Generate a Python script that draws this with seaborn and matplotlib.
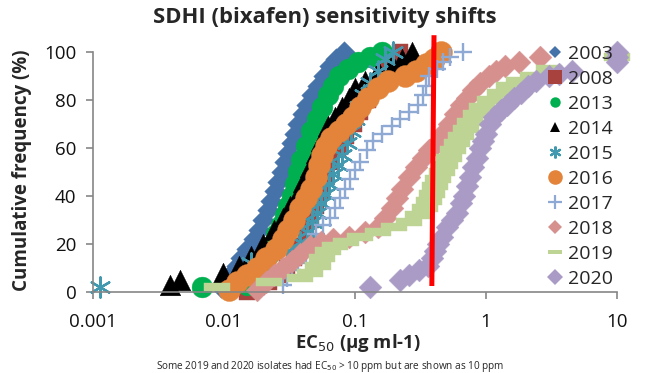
import matplotlib
matplotlib.use("Agg")
import matplotlib.pyplot as plt
import seaborn as sns
import pandas as pd
from matplotlib.lines import Line2D
from matplotlib.path import Path

# ---------------- data ----------------
years = ["2003", "2008", "2013", "2014", "2015", "2016", "2017", "2018", "2019", "2020"]

x_2003 = [0.0095, 0.0105, 0.0115, 0.0125, 0.0135, 0.015, 0.017, 0.0185, 0.0200, 0.0215, 0.023, 0.0245,
          0.026, 0.0275, 0.029, 0.031, 0.033, 0.035, 0.037, 0.040, 0.043, 0.047, 0.052, 0.058, 0.065,
          0.072, 0.083]
y_2003 = [2, 5, 8, 11, 14, 18, 22, 26, 30, 34, 38, 42, 46, 50, 54, 58, 62, 66, 70, 74, 78, 82, 86, 90,
          94, 97, 100]

x_2008 = [0.015, 0.018, 0.022, 0.026, 0.030, 0.034, 0.038, 0.042, 0.046, 0.050, 0.055, 0.060, 0.066,
          0.074, 0.085, 0.098, 0.11, 0.125, 0.145, 0.17, 0.2, 0.22]
y_2008 = [0, 2, 4, 7, 10, 14, 19, 24, 30, 36, 42, 48, 54, 60, 65, 70, 75, 80, 86, 92, 97, 100]

x_2013 = [0.0068, 0.015, 0.018, 0.020, 0.022, 0.0235, 0.025, 0.027, 0.029, 0.031, 0.033, 0.035, 0.037,
          0.039, 0.042, 0.046, 0.051, 0.056, 0.062, 0.068, 0.076, 0.088, 0.105, 0.13, 0.16]
y_2013 = [2, 3, 7, 11, 16, 20, 24, 28, 32, 36, 40, 45, 50, 55, 61, 67, 72, 77, 82, 86, 90, 93, 96, 98, 100]

x_2014 = [0.0039, 0.0046, 0.0098, 0.013, 0.016, 0.020, 0.024, 0.028, 0.032, 0.036, 0.040, 0.045, 0.050,
          0.055, 0.062, 0.070, 0.080, 0.090, 0.10, 0.12, 0.15, 0.19, 0.23, 0.27]
y_2014 = [3, 5, 8, 11, 15, 20, 26, 31, 36, 40, 46, 52, 58, 63, 69, 73, 77, 81, 85, 88, 92, 95, 97, 100]

x_2015 = [0.00113, 0.016, 0.03, 0.038, 0.043, 0.047, 0.051, 0.055, 0.059, 0.063, 0.068, 0.074, 0.080,
          0.087, 0.094, 0.10, 0.108, 0.118, 0.13, 0.15, 0.17, 0.195]
y_2015 = [2, 12, 17, 21, 25, 29, 33, 37, 41, 45, 49, 53, 57, 62, 67, 72, 77, 82, 87, 92, 97, 100]

x_2016 = [0.011, 0.0125, 0.015, 0.018, 0.021, 0.025, 0.028, 0.031, 0.034, 0.038, 0.042, 0.046, 0.050,
          0.053, 0.056, 0.060, 0.066, 0.075, 0.085, 0.097, 0.11, 0.125, 0.15, 0.18, 0.24, 0.29, 0.35,
          0.40, 0.45]
y_2016 = [1, 4, 7, 10, 14, 18, 22, 26, 30, 35, 39, 43, 48, 53, 57, 61, 64, 67, 70, 73, 77, 81, 85, 88,
          90, 92, 95, 97, 100]

x_2017 = [0.028, 0.030, 0.033, 0.037, 0.042, 0.046, 0.050, 0.057, 0.064, 0.070, 0.077, 0.084, 0.092,
          0.100, 0.109, 0.123, 0.137, 0.16, 0.19, 0.22, 0.26, 0.30, 0.33, 0.35, 0.37, 0.42, 0.47, 0.53,
          0.67]
y_2017 = [3, 6, 9, 12, 16, 20, 24, 28, 31, 35, 39, 43, 47, 51, 54, 59, 63, 66, 69, 72, 75, 78, 82, 86,
          90, 93, 96, 98, 100]

x_2018 = [0.018, 0.021, 0.024, 0.028, 0.033, 0.038, 0.045, 0.055, 0.068, 0.09, 0.12, 0.15, 0.17, 0.19,
          0.21, 0.23, 0.26, 0.29, 0.33, 0.37, 0.42, 0.46, 0.52, 0.58, 0.64, 0.72, 0.80, 0.90, 1.05, 1.2,
          1.4, 1.8, 2.6]
y_2018 = [1, 4, 7, 10, 13, 16, 19, 21, 22, 23, 25, 27, 31, 35, 39, 43, 48, 52, 56, 59, 62, 66, 70, 74,
          78, 81, 84, 87, 90, 92, 94, 96, 98]

x_2019 = [0.0088, 0.022, 0.038, 0.045, 0.052, 0.056, 0.062, 0.070, 0.085, 0.11, 0.15, 0.20, 0.26, 0.30,
          0.34, 0.37, 0.39, 0.41, 0.43, 0.46, 0.49, 0.52, 0.56, 0.60, 0.65, 0.70, 0.76, 0.84, 0.94, 1.07,
          1.27, 1.5, 1.8, 2.3, 3.0, 10]
y_2019 = [2, 4, 6, 8, 11, 14, 17, 19, 21, 23, 25, 27, 29, 32, 35, 38, 41, 44, 47, 50, 53, 56, 59, 62,
          65, 68, 71, 74, 77, 80, 83, 86, 88, 90, 93, 98]

x_2020 = [0.13, 0.22, 0.26, 0.31, 0.36, 0.39, 0.41, 0.43, 0.46, 0.50, 0.55, 0.60, 0.64, 0.68, 0.72, 0.76,
          0.80, 0.85, 0.90, 0.95, 1.00, 1.07, 1.15, 1.30, 1.45, 1.65, 1.85, 2.1, 2.4, 3.0, 3.6, 4.5, 10,
          10, 10]
y_2020 = [2, 5, 7, 9, 11, 14, 17, 20, 23, 27, 30, 33, 37, 40, 44, 48, 52, 56, 60, 63, 66, 70, 73, 76,
          78, 81, 83, 86, 88, 90, 91, 92, 96, 98, 100]

# resistance threshold line (red)
red_line_x = [0.386, 0.401]
red_line_y = [2.5, 107]

x_ticks = [0.001, 0.01, 0.1, 1, 10]
x_tick_labels = ["0.001", "0.01", "0.1", "1", "10"]
y_ticks = [0, 20, 40, 60, 80, 100]

# ---------------- styling ----------------
xs = [x_2003, x_2008, x_2013, x_2014, x_2015, x_2016, x_2017, x_2018, x_2019, x_2020]
ys = [y_2003, y_2008, y_2013, y_2014, y_2015, y_2016, y_2017, y_2018, y_2019, y_2020]

dash = Path([(-1.5, -0.5), (1.5, -0.5), (1.5, 0.5), (-1.5, 0.5), (-1.5, -0.5)],
            [Path.MOVETO, Path.LINETO, Path.LINETO, Path.LINETO, Path.CLOSEPOLY])

colors = ["#4672AA", "#A8423F", "#00B050", "#000000", "#4198AF",
          "#E3843A", "#8DA9D4", "#D6908E", "#BED495", "#A99BC6"]
markers = ["D", "s", "o", "^", (6, 2, 0), "o", "+", "D", dash, "D"]
sizes = [120, 130, 225, 220, 210, 250, 160, 135, 330, 135]
lws = [0, 0, 0, 0, 1.7, 0, 1.7, 0, 0, 0]
leg_ms = [6.5, 9.5, 7.5, 7.5, 8.5, 10.5, 9.5, 7.5, 10, 8]

sns.set_style("ticks")
plt.rcParams["font.family"] = ["Open Sans", "DejaVu Sans"]

fig = plt.figure(figsize=(6.5, 3.73), dpi=100)
ax = fig.add_axes([93 / 650, 1 - 292 / 373, 524 / 650, 240 / 373])

for yr, x, y, c, m, s, lw in zip(years, xs, ys, colors, markers, sizes, lws):
    df = pd.DataFrame({"EC50": x, "freq": y})
    filled = not (m == "+" or isinstance(m, tuple))
    kw = dict(edgecolor=c) if filled else {}
    sns.scatterplot(data=df, x="EC50", y="freq", ax=ax, color=c, marker=m, s=s,
                    linewidth=lw if not filled else 0.3, clip_on=False, legend=False, **kw)

ax.plot(red_line_x, red_line_y, color="#FF0000", lw=3.6, clip_on=False, zorder=5,
        solid_capstyle="butt")

ax.set_xscale("log")
ax.set_xlim(0.001, 10)
ax.set_ylim(0, 100)
ax.set_xticks(x_ticks)
ax.set_xticklabels(x_tick_labels)
ax.minorticks_off()
ax.set_yticks(y_ticks)
ax.set_xlabel("")
ax.set_ylabel("")
ax.tick_params(axis="both", labelsize=13.5, color="#868686", length=5, width=1.2,
               labelcolor="#111111")
ax.tick_params(axis="x", pad=10)
ax.tick_params(axis="y", pad=7)
for side in ["top", "right"]:
    ax.spines[side].set_visible(False)
for side in ["left", "bottom"]:
    ax.spines[side].set_color("#868686")
    ax.spines[side].set_linewidth(1.2)

handles = []
for yr, c, m, lw, ms in zip(years, colors, markers, lws, leg_ms):
    handles.append(Line2D([], [], linestyle="", marker=m, color=c, markersize=ms,
                          markeredgewidth=(1.6 if lw else 0), markerfacecolor=c,
                          markeredgecolor=c))
leg = ax.legend(handles, years, loc="upper left", bbox_to_anchor=(0.870, 1.03),
                frameon=False, fontsize=14, handlelength=0.6, handletextpad=0.4,
                labelspacing=0.36, borderpad=0.0, borderaxespad=0.0)
leg.set_zorder(10)

fig.text(0.5, 1 - 17 / 373, "SDHI (bixafen) sensitivity shifts", ha="center", va="center",
         fontsize=15.8, fontweight="bold")
fig.text(22 / 650, 1 - 170 / 373, "Cumulative frequency (%)", ha="center", va="center",
         rotation=90, fontsize=13.5, fontweight="bold")
fig.text(358 / 650, 1 - 343 / 373, "EC$_{50}$ (µg ml-1)", ha="center", va="center",
         fontsize=13.3, fontweight="bold")
fig.text(330 / 650, 1 - 366 / 373,
         "Some 2019 and 2020 isolates had EC$_{50}$ > 10 ppm but are shown as 10 ppm",
         ha="center", va="center", fontsize=7.2)

fig.savefig("out.png", dpi=100)
